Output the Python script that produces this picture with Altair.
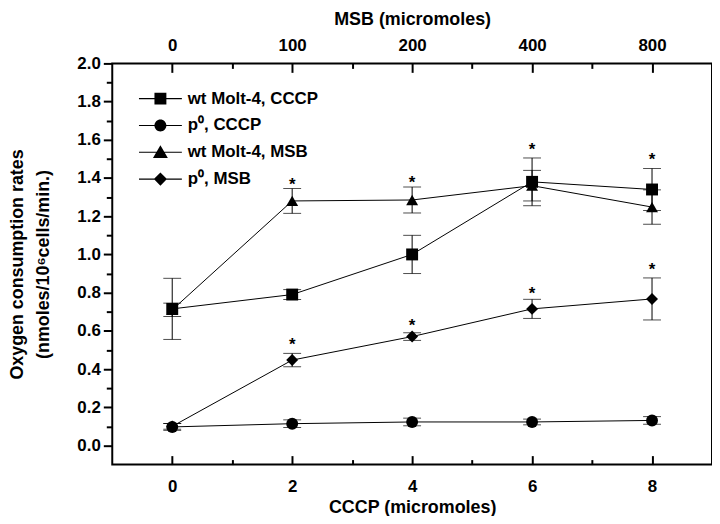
import altair as alt
import pandas as pd

# ---------------- data ----------------
cccp = [0, 2, 4, 6, 8]                       # CCCP (micromoles), bottom axis
cccp_minor = [1, 3, 5, 7]
msb_labels = ["0", "100", "200", "400", "800"]  # MSB (micromoles), top axis
series = ["wt Molt-4, CCCP", "p⁰, CCCP", "wt Molt-4, MSB", "p⁰, MSB"]

wt_cccp = [0.715, 0.79, 1.00, 1.38, 1.34]
wt_cccp_err = [0.16, 0.026, 0.10, 0.125, 0.11]
p0_cccp = [0.097, 0.114, 0.123, 0.123, 0.131]
p0_cccp_err = [0.018, 0.02, 0.02, 0.015, 0.02]
wt_msb = [0.71, 1.28, 1.285, 1.36, 1.248]
wt_msb_err = [0.035, 0.065, 0.068, 0.08, 0.09]
p0_msb = [0.10, 0.447, 0.57, 0.715, 0.767]
p0_msb_err = [0.015, 0.035, 0.02, 0.05, 0.11]

star_x = [2, 4, 6, 8, 2, 4, 6, 8]
star_y = [1.383, 1.394, 1.569, 1.517, 0.547, 0.645, 0.816, 0.937]

y_major = [round(0.2 * i, 1) for i in range(11)]
y_minor = [round(0.1 + 0.2 * i, 1) for i in range(10)]

# ---------------- tables ----------------
rows = []
for name, vals, errs in zip(series,
                            [wt_cccp, p0_cccp, wt_msb, p0_msb],
                            [wt_cccp_err, p0_cccp_err, wt_msb_err, p0_msb_err]):
    for x, v, e in zip(cccp, vals, errs):
        rows.append({"series": name, "cccp": x, "value": v,
                     "lo": v - e, "hi": v + e})
df = pd.DataFrame(rows)
stars = pd.DataFrame({"cccp": star_x, "y": star_y})

FONT = "Liberation Sans"
W, H = 604, 404

xs = alt.Scale(domain=[-1, 9], nice=False, zero=False)
ys = alt.Scale(domain=[-0.1, 2.0], nice=False, zero=False)

shape_scale = alt.Scale(domain=series,
                        range=["square", "circle", "triangle-up", "diamond"])
LINE = "M-3.6,-0.09H3.6V0.09H-3.6Z"
legend_paths = [
    LINE + "M-1,-1H1V1H-1Z",
    LINE + "M1,0A1,1,0,1,1,-1,0A1,1,0,1,1,1,0Z",
    LINE + "M0,-1.2L1.25,0.95L-1.25,0.95Z",
    LINE + "M0,-1.1L1.1,0L0,1.1L-1.1,0Z",
]

def ax_off(orient, values, size, offset=0):
    return alt.Axis(orient=orient, values=values, tickSize=size, tickWidth=2,
                    tickColor="black", labels=False, domain=False, grid=False,
                    title=None, offset=offset)

base = alt.Chart(df)

lines = base.mark_line(color="black", strokeWidth=1).encode(
    x=alt.X("cccp:Q", scale=xs,
            axis=alt.Axis(orient="bottom", values=cccp, ticks=False, tickSize=0,
                          labelPadding=14, domain=False, grid=False,
                          title="CCCP (micromoles)", titlePadding=4)),
    y=alt.Y("value:Q", scale=ys,
            axis=alt.Axis(values=y_major, format=".1f", tickSize=9, tickWidth=2,
                          tickColor="black", labelPadding=3, domain=False,
                          grid=False,
                          title=["Oxygen consumption rates",
                                 "(nmoles/10⁶cells/min.)"],
                          titlePadding=25, titleLineHeight=26)),
    detail="series:N",
    order="cccp:Q",
)

points = base.mark_point(filled=True, color="black", opacity=1, size=144).encode(
    x=alt.X("cccp:Q", scale=xs,
            axis=alt.Axis(orient="top", values=cccp, ticks=False, tickSize=0,
                          labelPadding=9, domain=False, grid=False,
                          labelExpr="[" + ",".join("'%s'" % s for s in msb_labels)
                                    + "][datum.value/2]",
                          title="MSB (micromoles)", titlePadding=8)),
    y=alt.Y("value:Q", scale=ys, axis=ax_off("left", y_minor, 6)),
    shape=alt.Shape("series:N", scale=shape_scale, legend=None),
)

err = base.mark_rule(color="black", strokeWidth=1).encode(
    x=alt.X("cccp:Q", scale=xs, axis=ax_off("top", cccp, 9, -H)),
    y=alt.Y("lo:Q", scale=ys, axis=None),
    y2="hi:Q",
)

cap_hi = base.mark_tick(color="black", orient="horizontal", size=18,
                        thickness=1).encode(
    x=alt.X("cccp:Q", scale=xs, axis=ax_off("top", cccp_minor, 5, -H)),
    y=alt.Y("hi:Q", scale=ys, axis=None),
)

cap_lo = base.mark_tick(color="black", orient="horizontal", size=18,
                        thickness=1).encode(
    x=alt.X("cccp:Q", scale=xs, axis=ax_off("bottom", cccp, 9, -H)),
    y=alt.Y("lo:Q", scale=ys, axis=None),
)

star = alt.Chart(stars).mark_text(text="*", font=FONT, fontSize=17,
                                  fontWeight="bold", color="black",
                                  baseline="alphabetic", dy=9).encode(
    x=alt.X("cccp:Q", scale=xs, axis=ax_off("bottom", cccp_minor, 5, -H)),
    y=alt.Y("y:Q", scale=ys, axis=None),
)

legend_layer = base.mark_point(filled=True, color="black", opacity=1,
                               clip=True).encode(
    x=alt.X("cccp:Q", scale=xs, axis=None),
    y=alt.value(-500),
    shape=alt.Shape("series:N",
                    scale=alt.Scale(domain=series, range=legend_paths),
                    legend=alt.Legend(orient="none", legendX=40, legendY=27,
                                      title=None, padding=0,
                                      labelFont=FONT, labelFontSize=17,
                                      labelFontWeight="bold",
                                      labelColor="black", labelOffset=19,
                                      symbolSize=144, symbolFillColor="black",
                                      symbolStrokeWidth=0, symbolOpacity=1,
                                      rowPadding=9)),
)

chart = alt.layer(lines, err, cap_hi, cap_lo, points, star, legend_layer).resolve_axis(
    x="independent", y="independent"
).resolve_scale(shape="independent").properties(
    width=W, height=H,
    background="white",
    autosize=alt.AutoSizeParams(type="none"),
    padding={"left": 105, "top": 54, "right": 0, "bottom": 50},
).configure_view(
    stroke="black", strokeWidth=2
).configure_axis(
    labelFont=FONT, labelFontSize=17, labelFontWeight="bold", labelColor="black",
    titleFont=FONT, titleFontSize=18, titleFontWeight="bold", titleColor="black",
)

chart.save("out.html", embed_options={"renderer": "svg", "actions": False})
